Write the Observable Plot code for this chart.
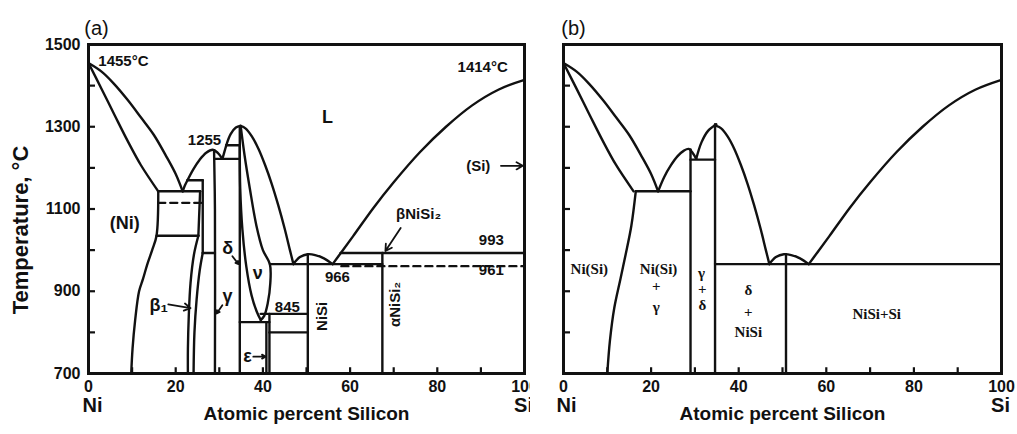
<!DOCTYPE html>
<html>
<head>
<meta charset="utf-8">
<script src="https://cdn.jsdelivr.net/npm/d3@7"></script>
<script src="https://cdn.jsdelivr.net/npm/@observablehq/plot@0.6"></script>
<style>
  html, body { margin: 0; padding: 0; background: #fff; }
  #wrap { position: relative; width: 1017px; height: 434px; background: #fff; overflow: hidden; }
  #pa, #pb { position: absolute; top: 0; }
  #pa { left: 0; }
  #pb { left: 530px; }
  svg text { fill: #111; }
</style>
</head>
<body>
<div id="wrap"><div id="pa"></div><div id="pb"></div></div>
<script>
// Ni–Si equilibrium phase diagram: composition in at.% Si, temperature in °C

const xTicks = [0, 20, 40, 60, 80, 100];
const xMinorTicks = [10, 20, 30, 40, 50, 60, 70, 80, 90];
const yTicks = [700, 900, 1100, 1300, 1500];
const yMinorTicks = [800, 900, 1000, 1100, 1200, 1300, 1400];

// liquidus curves
const niLiquidus = [[0,1455],[3,1434],[5.8,1405],[9,1365],[12,1323],[15,1280],[18,1225],[20,1185],[21.6,1143]];
const betaLiquidus = [[21.6,1143],[22.1,1157],[22.7,1170]];
const gammaLiquidus = [[22.7,1170],[24,1196],[25.5,1220],[27,1237],[28.5,1244],[29.6,1237],[30.7,1222]];
const deltaLiquidus = [[30.7,1222],[31.2,1240],[31.6,1255]];
const thetaLiquidusLeft = [[31.6,1255],[32.6,1282],[33.8,1298],[34.9,1302]];
const thetaLiquidusRight = [[34.9,1302],[36,1296],[37.5,1276],[39,1246],[40.5,1207],[42,1162],[43.5,1110],[45,1052],[46.2,1000],[47,966]];
const niSiDome = [[47,966],[48.5,983],[50.3,990],[52,988],[54,980],[56,966]];
const siLiquidus = [[56,966],[58,995],[60.7,1034],[65.3,1102],[70,1165],[76,1238],[82,1300],[88,1352],[94,1390],[100,1414]];

// solidus and solvus curves
const niSolidus = [[0,1455],[3,1392],[6,1328],[9,1265],[12,1207],[16,1143]];
const niSolvus = [[16,1143],[15.6,1035],[14.6,1000],[13.5,966],[12.5,930],[11.6,900],[10.7,830],[10.1,760],[9.8,700]];
const beta3Left = [[25.6,1143],[25.2,1035]];
const betaLeft = [[25.2,1035],[24.2,990],[23.4,920],[23,840],[22.8,760],[22.8,700]];
const betaRight = [[26.2,993],[25.5,950],[24.8,880],[24.3,800],[24.1,700]];
const beta3Right = [[26.2,1170],[26.2,993]];
const gammaLine = [[28.8,1243],[29,1100],[29,700]];
const deltaLine = [[34.7,1302],[34.7,700]];
const thetaLeft = [[34.7,1255],[34.8,1150],[35.3,1050],[36.2,960],[37.4,890],[38.6,850],[39.5,830]];
const thetaRight = [[34.9,1302],[35.8,1230],[37,1150],[38.5,1060],[40,1000],[41.6,966],[41.7,920],[41.1,870],[40.3,840],[39.5,830]];
const epsLeft = [[40.8,825],[40.8,700]];
const epsRight = [[41.5,845],[41.5,700]];
const niSiLine = [[50.3,990],[50.3,700]];
const niSi2Line = [[67.4,993],[67.4,700]];

// invariant isotherms: [x from, x to, T]
const isotherms = [
  [16, 25.6, 1143], [15.6, 25.2, 1035], [22.7, 26.2, 1170], [29, 34.7, 1222], [31.6, 34.7, 1255],
  [26.2, 29, 993], [41.6, 50.3, 966], [50.3, 67.4, 966], [57.8, 100, 993],
  [39.5, 50.3, 845], [34.7, 41.5, 825], [41.5, 50.3, 800]
];
const dashedIsotherms = [[16, 26.4, 1115], [58, 100, 961]];

const panelACurves = [niLiquidus, betaLiquidus, gammaLiquidus, deltaLiquidus, thetaLiquidusLeft, thetaLiquidusRight,
  niSiDome, siLiquidus, niSolidus, niSolvus, beta3Left, betaLeft, betaRight, beta3Right, gammaLine, deltaLine,
  thetaLeft, thetaRight, epsLeft, epsRight, niSiLine, niSi2Line];

// simplified diagram (panel b)
const bSolvus = [[16.5,1143],[15.5,1060],[14.2,990],[13,930],[11.6,860],[10.6,780],[10,700]];
const bGammaLiquidus = [[21.6,1143],[23,1178],[24.5,1206],[26,1228],[27.5,1242],[28.6,1246],[29.5,1236],[30.3,1222]];
const bThetaLiquidusLeft = [[30.3,1222],[31.5,1262],[33,1290],[34.9,1306]];
const bLines = [[[29,1245],[29,700]], [[34.6,1306],[34.6,700]], [[50.8,990],[50.8,700]]];
const bIsotherms = [[16.5, 29, 1143], [29, 34.6, 1220], [34.6, 100, 966]];

// labels: [x, T, text]
const panelALabels = [
  [8.0, 1459, "1455°C"], [90.4, 1446, "1414°C"], [26.6, 1268, "1255"],
  [89.4, 1205, "(Si)"], [75.7, 1088, "βNiSi₂"], [92.4, 1024, "993"], [92.4, 951, "961"],
  [57.1, 934, "966"], [45.6, 861, "845"]
];
const panelAPhases = [
  [54.8, 1322, "L"], [8.3, 1066, "(Ni)"], [31.9, 1005, "δ"], [38.8, 944, "ν"], [31.9, 888, "γ"],
  [16.1, 866, "β₁"], [36.5, 741, "ε"]
];
const panelAVertical = [[53.7, 839, "NiSi"], [70.4, 868, "αNiSi₂"]];
// pointers: [x1, T1, x2, T2]
const panelAArrows = [
  [94.6, 1205, 99.6, 1205], [71.6, 1054, 68.1, 998], [33.0, 985, 34.4, 966],
  [30.7, 866, 29.4, 846], [18.3, 868, 23.4, 859], [37.8, 741, 40.6, 741]
];
const panelBLabels = [
  [5.9, 954, "Ni(Si)"], [21.7, 954, "Ni(Si)"], [21.2, 912, "+"], [21.2, 862, "γ"],
  [31.5, 944, "γ"], [31.7, 905, "+"], [31.7, 865, "δ"],
  [42.2, 902, "δ"], [42.2, 848, "+"], [42.2, 800, "NiSi"], [71.5, 844, "NiSi+Si"]
];

const font = "'Liberation Sans', Arial, sans-serif";

function segs(list) {
  return list.flatMap((pts, i) => pts.map(([x, y]) => ({x, y, id: i})));
}
function hsegs(list) {
  return list.flatMap(([a, b, t], i) => [{x: a, y: t, id: i}, {x: b, y: t, id: i}]);
}

function axes(showY) {
  const marks = [
    Plot.ruleX(xMinorTicks, {y1: 700, y2: 714, strokeWidth: 2.2}),
    Plot.ruleY(yMinorTicks, {x1: 0, x2: 1.6, strokeWidth: 2.2}),
    Plot.frame({strokeWidth: 3}),
    Plot.axisX(xTicks, {tickSize: 0, tickPadding: 7, fontWeight: "bold", fontSize: 16, label: null})
  ];
  if (showY) marks.push(Plot.axisY(yTicks, {tickSize: 0, tickPadding: 8, tickFormat: d => String(d), fontWeight: "bold", fontSize: 16, label: null}));
  else marks.push(Plot.axisY({ticks: [], label: null}));
  return marks;
}

function footer(dxNi) {
  return [
    Plot.text(["Atomic percent Silicon"], {frameAnchor: "bottom", dy: 46, fontSize: 19, fontWeight: "bold"}),
    Plot.text(["Ni"], {frameAnchor: "bottom-left", textAnchor: "middle", dy: 38, dx: dxNi, fontSize: 20, fontWeight: "bold"}),
    Plot.text(["Si"], {frameAnchor: "bottom-right", textAnchor: "middle", dy: 38, dx: -1, fontSize: 20, fontWeight: "bold"})
  ];
}

const common = {
  height: 434, marginTop: 44, marginBottom: 61,
  x: {domain: [0, 100]},
  y: {domain: [700, 1500]},
  style: {fontFamily: font, color: "#111", background: "#fff", overflow: "visible"}
};

const stroke = {x: "x", y: "y", z: "id", stroke: "#111", strokeWidth: 2.4};

const pa = Plot.plot({
  ...common,
  width: 530, marginLeft: 88, marginRight: 6,
  marks: [
    ...axes(true),
    Plot.line(segs(panelACurves), {...stroke, curve: "catmull-rom"}),
    Plot.line(hsegs(isotherms), stroke),
    Plot.line(hsegs(dashedIsotherms), {...stroke, strokeDasharray: "7,5"}),
    Plot.arrow(panelAArrows, {x1: d => d[0], y1: d => d[1], x2: d => d[2], y2: d => d[3], headLength: 6, strokeWidth: 1.8, stroke: "#111"}),
    Plot.text(panelALabels, {x: d => d[0], y: d => d[1], text: d => d[2], fontSize: 15, fontWeight: "bold"}),
    Plot.text(panelAPhases, {x: d => d[0], y: d => d[1], text: d => d[2], fontSize: 18, fontWeight: "bold"}),
    Plot.text(panelAVertical, {x: d => d[0], y: d => d[1], text: d => d[2], rotate: -90, fontSize: 15, fontWeight: "bold"}),
    ...footer(4),
    Plot.text(["(a)"], {frameAnchor: "top-left", textAnchor: "middle", dy: -24, dx: 8, fontSize: 20}),
    Plot.text(["Temperature, °C"], {frameAnchor: "left", textAnchor: "middle", dx: -68, dy: 21, rotate: -90, fontSize: 22, fontWeight: "bold"})
  ]
});
document.getElementById("pa").appendChild(pa);

const bCurves = [niLiquidus, niSolidus, bSolvus, bGammaLiquidus, bThetaLiquidusLeft, thetaLiquidusRight, siLiquidus, niSiDome, ...bLines];

const pb = Plot.plot({
  ...common,
  width: 487, marginLeft: 33, marginRight: 16,
  marks: [
    ...axes(false),
    Plot.line(segs(bCurves), {...stroke, curve: "catmull-rom"}),
    Plot.line(hsegs(bIsotherms), stroke),
    Plot.text(panelBLabels, {x: d => d[0], y: d => d[1], text: d => d[2], fontSize: 15, fontWeight: "bold", fontFamily: "'Liberation Serif', 'Times New Roman', serif"}),
    ...footer(3),
    Plot.text(["(b)"], {frameAnchor: "top-left", textAnchor: "middle", dy: -24, dx: 10, fontSize: 20})
  ]
});
document.getElementById("pb").appendChild(pb);
</script>
</body>
</html>
